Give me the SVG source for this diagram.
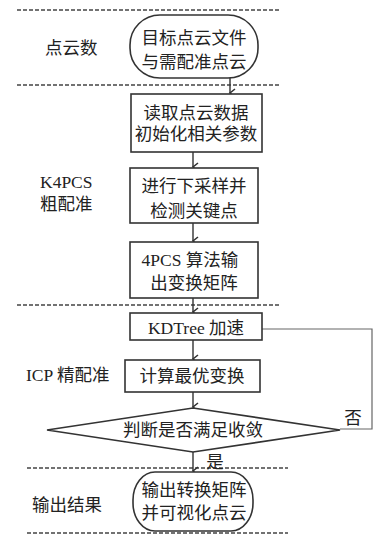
<svg xmlns="http://www.w3.org/2000/svg" width="376" height="535" viewBox="0 0 376 535">
<defs>
<style>
.box{fill:#fff;stroke:#333;stroke-width:1.6}
.dash{stroke:#444;stroke-width:1.6;stroke-dasharray:4 2;fill:none}
.ln{stroke:#333;stroke-width:1.4;fill:none}
.fb{stroke:#666;stroke-width:1.2;fill:none}
.t{font-family:"Liberation Serif","Noto Sans CJK SC",serif;font-size:17.5px;fill:#222;text-anchor:middle;dominant-baseline:central}
.l{font-family:"Liberation Serif","Noto Sans CJK SC",serif;font-size:17.5px;fill:#222;dominant-baseline:central}
</style>
<marker id="ah" markerWidth="10" markerHeight="10" refX="5" refY="8" orient="auto" markerUnits="userSpaceOnUse" viewBox="0 0 10 10">
<path d="M1,3 L5,8 L9,3" fill="none" stroke="#333" stroke-width="1.6"/>
</marker>
</defs>
<rect width="376" height="535" fill="#fff"/>
<g id="separators">
<line class="dash" x1="17" y1="10" x2="280" y2="10"/>
<line class="dash" x1="17" y1="85" x2="280" y2="85"/>
<line class="dash" x1="17" y1="305" x2="280" y2="305"/>
<line class="dash" x1="27" y1="468" x2="288" y2="468"/>
<line class="dash" x1="27" y1="533" x2="288" y2="533"/>
</g>
<g id="stage-labels">
<text class="l" x="45" y="48">点云数</text>
<text class="l" x="40" y="182">K4PCS</text>
<text class="l" x="40" y="204">粗配准</text>
<text class="l" x="26" y="375" xml:space="preserve">ICP 精配准</text>
<text class="l" x="32" y="505">输出结果</text>
</g>
<g id="connectors">
<line class="ln" x1="230" y1="78" x2="230" y2="93" marker-end="url(#ah)"/>
<line class="ln" x1="193" y1="152" x2="193" y2="167" marker-end="url(#ah)"/>
<line class="ln" x1="193" y1="223" x2="193" y2="241" marker-end="url(#ah)"/>
<line class="ln" x1="193" y1="298" x2="193" y2="312" marker-end="url(#ah)"/>
<line class="ln" x1="193" y1="340" x2="193" y2="359" marker-end="url(#ah)"/>
<line class="ln" x1="193" y1="392" x2="193" y2="407" marker-end="url(#ah)"/>
<line class="ln" x1="193" y1="452" x2="193" y2="471" marker-end="url(#ah)"/>
<polyline class="fb" points="340,429 372,429 372,329 262,329"/>
<text class="t" x="353" y="418">否</text>
<text class="t" x="215" y="462">是</text>
</g>
<g id="start">
<rect class="box" x="130" y="15" width="128" height="63" rx="30" ry="30"/>
<text class="t" x="194" y="38">目标点云文件</text>
<text class="t" x="194" y="62">与需配准点云</text>
</g>
<g id="read">
<rect class="box" x="131" y="94" width="131" height="58"/>
<text class="t" x="196" y="113">读取点云数据</text>
<text class="t" x="196" y="134">初始化相关参数</text>
</g>
<g id="sample">
<rect class="box" x="130" y="168" width="128" height="55"/>
<text class="t" x="194" y="186">进行下采样并</text>
<text class="t" x="194" y="211">检测关键点</text>
</g>
<g id="fourpcs">
<rect class="box" x="130" y="242" width="128" height="56"/>
<text class="t" x="190" y="260" xml:space="preserve">4PCS 算法输</text>
<text class="t" x="194" y="283">出变换矩阵</text>
</g>
<g id="kdtree">
<rect class="box" x="130" y="313" width="132" height="27"/>
<text class="t" x="196" y="328" xml:space="preserve">KDTree 加速</text>
</g>
<g id="optimal">
<rect class="box" x="125" y="360" width="135" height="32"/>
<text class="t" x="192" y="376">计算最优变换</text>
</g>
<g id="converge">
<polygon class="box" points="47,430 193,408 340,430 193,452"/>
<text class="t" x="193" y="430">判断是否满足收敛</text>
</g>
<g id="end">
<rect class="box" x="133" y="472" width="120" height="59" rx="22" ry="28"/>
<text class="t" x="194" y="490">输出转换矩阵</text>
<text class="t" x="194" y="513">并可视化点云</text>
</g>
</svg>
